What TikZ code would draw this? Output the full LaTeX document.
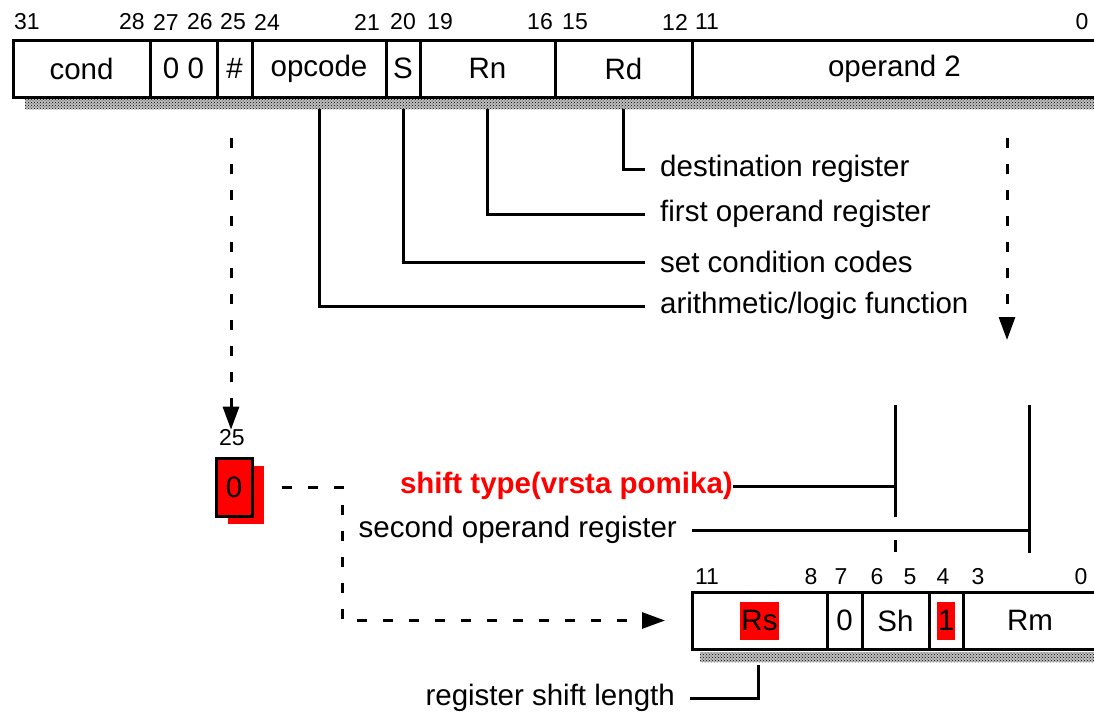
\documentclass[tikz,border=0pt]{standalone}
\usepackage{fontspec}
\setmainfont{Liberation Sans}
\usetikzlibrary{arrows.meta, patterns, shadows}

\newcommand\bigtxt{\fontsize{29.5}{34}\selectfont}
\newcommand\smalltxt{\fontsize{23}{26}\selectfont}
\newcommand\hilite[1]{{\setlength\fboxsep{1pt}\colorbox{red}{\rule[-8pt]{0pt}{36pt}#1}}}

\tikzset{
  field/.style = {
    draw, line width=3pt, inner sep=0pt, outer sep=0pt,
    minimum height=57pt, font=\bigtxt
  },
  bitno/.style = {
    font=\smalltxt, inner sep=0pt
  },
  strip/.style = {
    fill=black!25,
    postaction={pattern=crosshatch dots, pattern color=black}
  },
  leader/.style = {
    line width=3pt
  },
  dashed arrow/.style = {
    line width=3pt, dash pattern=on 10pt off 16pt,
    -{Triangle[length=23pt, width=16pt]}
  },
  remark/.style = {
    font=\bigtxt, inner xsep=15pt, inner ysep=0pt
  }
}

\begin{document}
\begin{tikzpicture}[x=1pt, y=-1pt]
    \useasboundingbox (0,0) rectangle (1094,716);
    \clip (0,0) rectangle (1094,716);
    % le mot d'instruction
    \node[field, minimum width=137pt] (cond)   at (81.5,68.5)  {cond};
    \node[field, minimum width=67pt]  (zeros)  at (183.5,68.5) {0 0};
    \node[field, minimum width=35pt]  (imm)    at (234.5,68.5) {\#};
    \node[field, minimum width=134pt] (opcode) at (319,68.5)   {opcode};
    \node[field, minimum width=34pt]  (sbit)   at (403,68.5)   {S};
    \node[field, minimum width=135pt] (rn)     at (487.5,68.5) {Rn};
    \node[field, minimum width=137pt] (rd)     at (623.5,68.5) {Rd};
    \node[field, minimum width=405pt] (op2)    at (894.5,68.5) {operand 2};
    \path[strip] (25,99) rectangle (1100,109);
    % numeros des bits
    \path[every node/.style=bitno]
      (27,22)   node (t31) {31}
      (132,22)  node (t28) {28}
      (166,22)  node (t27) {27}
      (200,22)  node (t26) {26}
      (233,22)  node (t25) {25}
      (267,22)  node (t24) {24}
      (367,22)  node (t21) {21}
      (403,22)  node (t20) {20}
      (440,22)  node (t19) {19}
      (540,22)  node (t16) {16}
      (575,22)  node (t15) {15}
      (675,22)  node (t12) {12}
      (707,22)  node (t11) {11}
      (1082,22) node (t0)  {0}
    ;
    % les renvois
    \path
      (25,109)  coordinate (strip)
      (645,169) coordinate (rd-lab)
      (645,214) coordinate (rn-lab)
      (645,262) coordinate (s-lab)
      (645,306) coordinate (op-lab)
    ;
    \node[remark, anchor=west] (dest)  at (rd-lab) {destination register};
    \node[remark, anchor=west] (first) at (rn-lab) {first operand register};
    \node[remark, anchor=west] (setcc) at (s-lab)  {set condition codes};
    \node[remark, anchor=west] (alu)   at (op-lab) {arithmetic/logic function};
    \draw[leader] (rd.south |- strip) |- (dest.west);
    \draw[leader] (rn.south |- strip) |- (first.west);
    \draw[leader] (sbit.south |- strip) |- (setcc.west);
    \draw[leader] (opcode.south |- strip) |- (alu.west);
    % le bit 25
    \node[bitno] (b25) at (232,438) {25};
    \node[field, fill=red, minimum width=36pt, minimum height=58pt,
      drop shadow={shadow xshift=12pt, shadow yshift=-8pt, fill=red, opacity=1}]
      (bit25) at (234,487) {0};
    % les fleches en tirets
    \path
      (231,138)  coordinate (imm-from)
      (1007,138) coordinate (op2-from)
      (1007,340) coordinate (op2-to)
      (342,0)    coordinate (bend)
    ;
    \draw[dashed arrow] (imm-from) -- (imm-from |- b25.north);
    \draw[dashed arrow] (op2-from) -- (op2-to);
    % le second operande
    \node[field, minimum width=135pt] (rs)   at (759.5,620.5) {\hilite{Rs}};
    \node[field, minimum width=35pt]  (zero) at (844.5,620.5) {\raisebox{-4pt}{0}};
    \node[field, minimum width=67pt]  (sh)   at (895.5,620.5) {Sh};
    \node[field, minimum width=34pt]  (one)  at (946,620.5)   {\hilite{1}};
    \node[field, minimum width=134pt] (rm)   at (1030,620.5)  {Rm};
    \path[strip] (700,652) rectangle (1100,662);
    \path[every node/.style=bitno]
      (707,577)  node (s11) {11}
      (811,577)  node (s8)  {8}
      (841,577)  node (s7)  {7}
      (877,577)  node (s6)  {6}
      (910,577)  node (s5)  {5}
      (943,577)  node (s4)  {4}
      (978,577)  node (s3)  {3}
      (1081,577) node (s0)  {0}
    ;
    \draw[dashed arrow] ([xshift=30pt]bit25.east) -| (bend |- rs.west)
      -- ([xshift=-27pt]rs.west);
    % type de decalage et registre Rm
    \path
      (895,405)  coordinate (sh-top)
      (895,517)  coordinate (sh-bot)
      (895,540)  coordinate (sh-tick)
      (895,552)  coordinate (sh-tick-end)
      (1029,405) coordinate (rm-top)
      (1029,553) coordinate (rm-bot)
      (758,665)  coordinate (rs-tail)
    ;
    \node[remark, anchor=east, inner xsep=0pt, text=red, font=\bigtxt\bfseries]
      (shtype) at (733,486) {shift type(vrsta pomika)};
    \node[remark, anchor=east] (op2reg) at (692,530) {second operand register};
    \node[remark, anchor=east] (shlen)  at (690,698) {register shift length};
    \draw[leader] (sh-top) -- (sh-bot);
    \draw[leader] (sh-tick) -- (sh-tick-end);
    \draw[leader] (shtype.east) -- (shtype.east -| sh-top);
    \draw[leader] (rm-top) -- (rm-bot);
    \draw[leader] (op2reg.east) -- (op2reg.east -| rm-top);
    \draw[leader] (rs-tail) |- (shlen.east);
\end{tikzpicture}
\end{document}
